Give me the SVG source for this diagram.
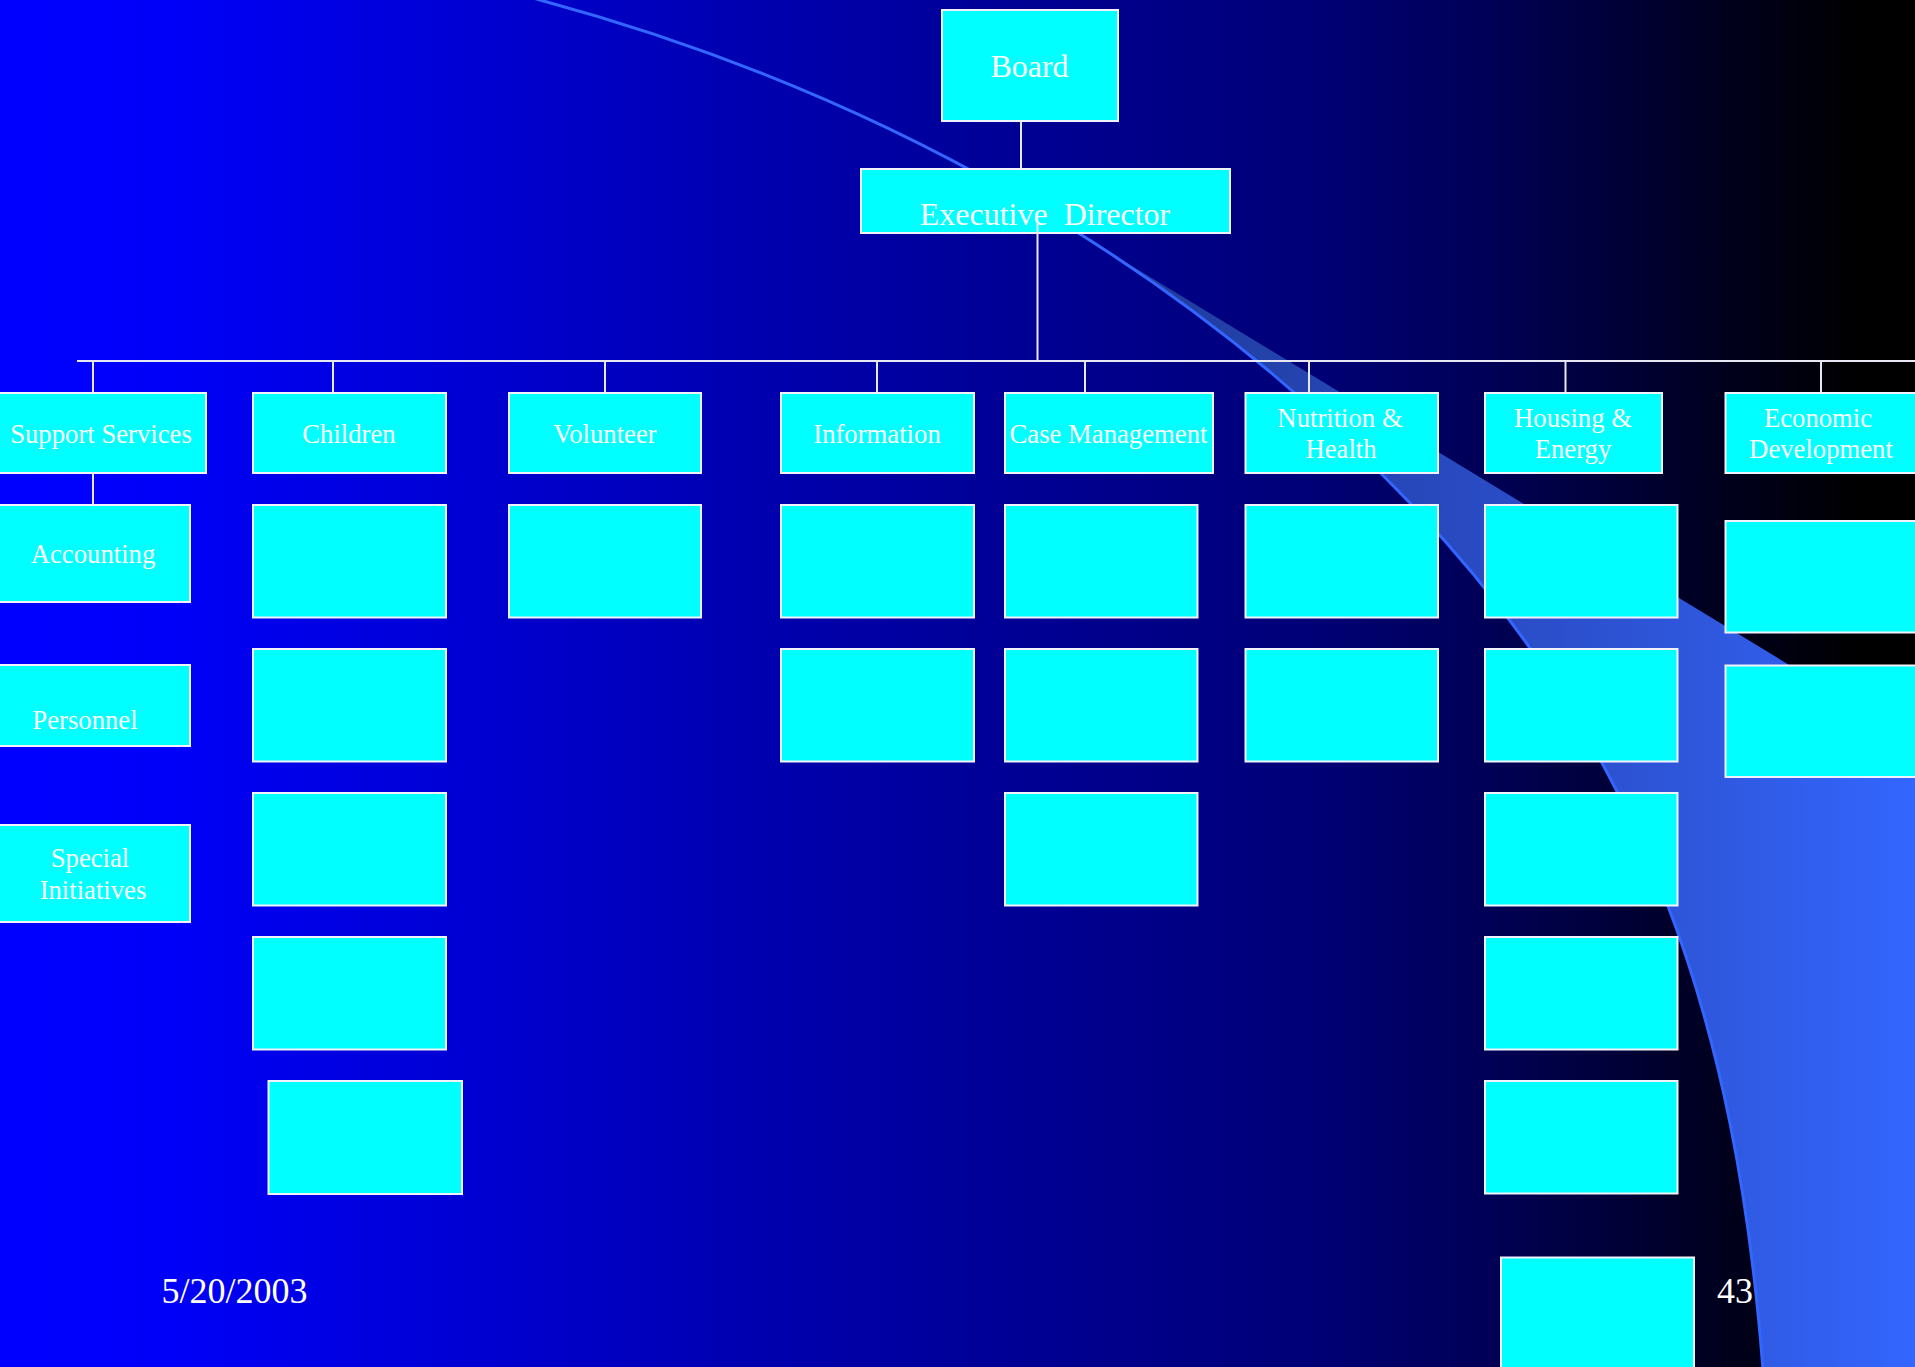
<svg xmlns="http://www.w3.org/2000/svg" width="1915" height="1367" viewBox="0 0 1915 1367">
<defs>
<linearGradient id="bg" gradientUnits="userSpaceOnUse" x1="0" y1="0" x2="1915" y2="0">
<stop offset="0" stop-color="#0000FF"/>
<stop offset="0.08" stop-color="#0000FA"/>
<stop offset="0.37" stop-color="#0000B4"/>
<stop offset="0.68" stop-color="#000078"/>
<stop offset="0.78" stop-color="#000055"/>
<stop offset="0.89" stop-color="#000022"/>
<stop offset="0.97" stop-color="#000000"/>
<stop offset="1" stop-color="#000000"/>
</linearGradient>
<linearGradient id="wedge" gradientUnits="userSpaceOnUse" x1="1097" y1="0" x2="1915" y2="0">
<stop offset="0" stop-color="#1E3A96"/>
<stop offset="0.5" stop-color="#2A4CC6"/>
<stop offset="0.75" stop-color="#2F58DE"/>
<stop offset="1" stop-color="#3366FF"/>
</linearGradient>
<style>
.box{fill:#00FFFF;stroke:#F2F2FF;stroke-width:2}
.lbl{fill:#FFFFFF;font-family:"Liberation Serif","Times New Roman",serif;font-size:26.7px;text-anchor:middle}
.big{font-size:32px}
.foot{fill:#FFFFFF;font-family:"Liberation Serif","Times New Roman",serif;font-size:36px}
.con{stroke:#E8E8F4;stroke-width:2;fill:none}
</style>
</defs>
<rect x="0" y="0" width="1915" height="1367" fill="url(#bg)"/>
<g id="decor">
<path d="M1097 244.8 C1210.6 318.2 1316 404.2 1410 503 C1648 752.8 1736.2 1023 1763 1370 L1915 1370 L1915 741.3 Z" fill="url(#wedge)"/>
<path d="M500 -11 L540 0 C869 88.8 1175 256 1410 503 C1648 752.8 1736.2 1023 1763 1370" fill="none" stroke="#3366FF" stroke-width="3"/>
</g>
<g id="board"><rect class="box" x="942" y="10" width="176" height="111"/><text class="lbl big" x="1029.5" y="77">Board</text></g>
<g id="executive-director"><rect class="box" x="861" y="169" width="369" height="64"/><text class="lbl big" x="1045" y="225" xml:space="preserve">Executive  Director</text></g>
<g id="support-services"><rect class="box" x="-5" y="393" width="211" height="80"/><text class="lbl" x="101" y="443">Support Services</text></g>
<g id="children"><rect class="box" x="253" y="393" width="193" height="80"/><text class="lbl" x="349" y="443">Children</text></g>
<g id="volunteer"><rect class="box" x="509" y="393" width="192" height="80"/><text class="lbl" x="605" y="443">Volunteer</text></g>
<g id="information"><rect class="box" x="781" y="393" width="193" height="80"/><text class="lbl" x="877" y="443">Information</text></g>
<g id="case-management"><rect class="box" x="1005" y="393" width="208" height="80"/><text class="lbl" x="1108.5" y="443">Case Management</text></g>
<g id="nutrition-health"><rect class="box" x="1245.5" y="393" width="192.5" height="80"/><text class="lbl" x="1340" y="427">Nutrition &amp;</text><text class="lbl" x="1341" y="458">Health</text></g>
<g id="housing-energy"><rect class="box" x="1485" y="393" width="177" height="80"/><text class="lbl" x="1573" y="427">Housing &amp;</text><text class="lbl" x="1573" y="458">Energy</text></g>
<g id="economic-development"><rect class="box" x="1725.5" y="393" width="200" height="80"/><text class="lbl" x="1818" y="427">Economic</text><text class="lbl" x="1821" y="458">Development</text></g>
<g id="accounting"><rect class="box" x="-5" y="505" width="195" height="97"/><text class="lbl" x="93" y="563">Accounting</text></g>
<g id="personnel"><rect class="box" x="-5" y="665" width="195" height="81"/><text class="lbl" x="85" y="729">Personnel</text></g>
<g id="special-initiatives"><rect class="box" x="-5" y="825" width="195" height="97"/><text class="lbl" x="90" y="866.5">Special</text><text class="lbl" x="93" y="899">Initiatives</text></g>
<g id="children-1"><rect class="box" x="253" y="505" width="193" height="112.5"/></g>
<g id="children-2"><rect class="box" x="253" y="649" width="193" height="112.5"/></g>
<g id="children-3"><rect class="box" x="253" y="793" width="193" height="112.5"/></g>
<g id="children-4"><rect class="box" x="253" y="937" width="193" height="112.5"/></g>
<g id="children-5"><rect class="box" x="268.5" y="1081" width="193.5" height="113"/></g>
<g id="volunteer-1"><rect class="box" x="509" y="505" width="192" height="112.5"/></g>
<g id="information-1"><rect class="box" x="781" y="505" width="193" height="112.5"/></g>
<g id="information-2"><rect class="box" x="781" y="649" width="193" height="112.5"/></g>
<g id="case-1"><rect class="box" x="1005" y="505" width="192.5" height="112.5"/></g>
<g id="case-2"><rect class="box" x="1005" y="649" width="192.5" height="112.5"/></g>
<g id="case-3"><rect class="box" x="1005" y="793" width="192.5" height="112.5"/></g>
<g id="nutrition-1"><rect class="box" x="1245.5" y="505" width="192.5" height="112.5"/></g>
<g id="nutrition-2"><rect class="box" x="1245.5" y="649" width="192.5" height="112.5"/></g>
<g id="housing-1"><rect class="box" x="1485" y="505" width="192.5" height="112.5"/></g>
<g id="housing-2"><rect class="box" x="1485" y="649" width="192.5" height="112.5"/></g>
<g id="housing-3"><rect class="box" x="1485" y="793" width="192.5" height="112.5"/></g>
<g id="housing-4"><rect class="box" x="1485" y="937" width="192.5" height="112.5"/></g>
<g id="housing-5"><rect class="box" x="1485" y="1081" width="192.5" height="112.5"/></g>
<g id="housing-6"><rect class="box" x="1501" y="1257.5" width="193" height="115"/></g>
<g id="economic-1"><rect class="box" x="1725.5" y="521" width="200" height="111.5"/></g>
<g id="economic-2"><rect class="box" x="1725.5" y="665.5" width="200" height="111.5"/></g>
<g id="connectors">
<line class="con" x1="1021" y1="121" x2="1021" y2="169"/>
<line class="con" x1="1037.5" y1="224" x2="1037.5" y2="361"/>
<line class="con" x1="77" y1="361" x2="1915" y2="361"/>
<line class="con" x1="93" y1="361" x2="93" y2="393"/>
<line class="con" x1="333" y1="361" x2="333" y2="393"/>
<line class="con" x1="605" y1="361" x2="605" y2="393"/>
<line class="con" x1="877" y1="361" x2="877" y2="393"/>
<line class="con" x1="1085" y1="361" x2="1085" y2="393"/>
<line class="con" x1="1309" y1="361" x2="1309" y2="393"/>
<line class="con" x1="1565.5" y1="361" x2="1565.5" y2="393"/>
<line class="con" x1="1821" y1="361" x2="1821" y2="393"/>
<line class="con" x1="93" y1="473" x2="93" y2="505"/>
</g>
<text class="foot" x="161.5" y="1303">5/20/2003</text>
<text class="foot" x="1717" y="1303">43</text>
</svg>
